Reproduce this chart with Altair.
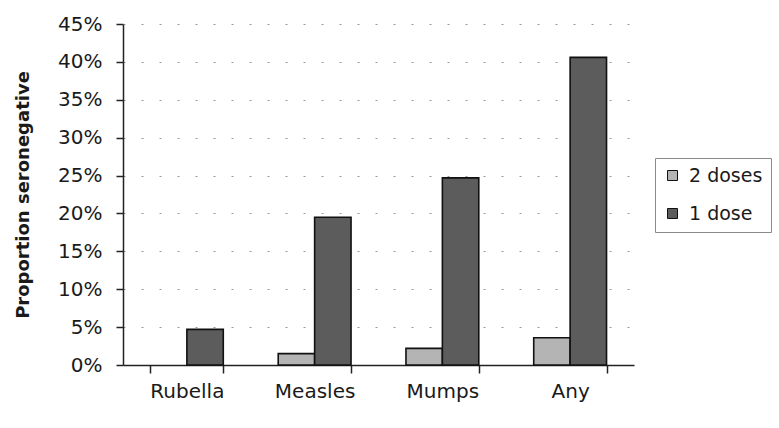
import altair as alt
import pandas as pd

# Seronegative proportions (%) by vaccine component and number of doses
categories = ["Rubella", "Measles", "Mumps", "Any"]
series = ["2 doses", "1 dose"]
two_doses = [0.0, 1.5, 2.2, 3.6]
one_dose = [4.7, 19.5, 24.7, 40.6]
y_ticks = [0, 5, 10, 15, 20, 25, 30, 35, 40, 45]
series_colors = ["#b4b4b4", "#5c5c5c"]

rows = []
for cat, a, b in zip(categories, two_doses, one_dose):
    rows.append({"vaccine": cat, "schedule": series[0], "pct": a})
    rows.append({"vaccine": cat, "schedule": series[1], "pct": b})
df = pd.DataFrame(rows)

FONT = "DejaVu Sans"
INK = "#1a1a1a"

bars = alt.Chart(df).mark_bar(stroke="#111111", strokeWidth=1.6).encode(
    x=alt.X(
        "vaccine:N",
        sort=categories,
        scale=alt.Scale(paddingInner=0.43, paddingOuter=0.215),
        axis=alt.Axis(
            title=None,
            labelAngle=0,
            tickBand="extent",
            tickSize=8,
            tickColor="#222222",
            tickWidth=1.5,
            domainColor="#222222",
            domainWidth=1.5,
            labelPadding=8,
            labelFont=FONT,
            labelFontSize=20,
            labelColor=INK,
        ),
    ),
    xOffset=alt.XOffset(
        "schedule:N",
        sort=series,
        scale=alt.Scale(domain=series, paddingInner=0, paddingOuter=0),
    ),
    y=alt.Y(
        "pct:Q",
        scale=alt.Scale(domain=[0, 45], nice=False),
        axis=alt.Axis(
            values=y_ticks,
            labelExpr="datum.value + '%'",
            title="Proportion seronegative",
            titleFont=FONT,
            titleFontSize=18,
            titleFontWeight="bold",
            titleColor=INK,
            titlePadding=25,
            grid=True,
            gridDash=[2, 16],
            gridColor="#9a9a9a",
            gridWidth=1,
            tickSize=7,
            tickColor="#222222",
            tickWidth=1.5,
            domainColor="#222222",
            domainWidth=1.5,
            labelPadding=14,
            labelFont=FONT,
            labelFontSize=20,
            labelColor=INK,
        ),
    ),
    color=alt.Color(
        "schedule:N",
        sort=series,
        scale=alt.Scale(domain=series, range=series_colors),
        legend=alt.Legend(
            title=None,
            orient="none",
            legendX=532,
            legendY=134,
            symbolType="square",
            symbolSize=100,
            symbolStrokeColor="#111111",
            symbolStrokeWidth=1,
            labelFont=FONT,
            labelFontSize=19,
            labelColor=INK,
            labelOffset=7,
            rowPadding=18,
            padding=8,
            strokeColor="#8a8a8a",
            fillColor="white",
        ),
    ),
).transform_filter(alt.datum.pct > 0)

chart = bars.properties(
    width=511,
    height=341,
    autosize=alt.AutoSizeParams(type="none"),
    padding={"left": 123, "top": 24, "right": 145, "bottom": 63},
    background="white",
).configure_view(stroke=None)

chart.save("out.html", embed_options={"renderer": "svg", "actions": False})
